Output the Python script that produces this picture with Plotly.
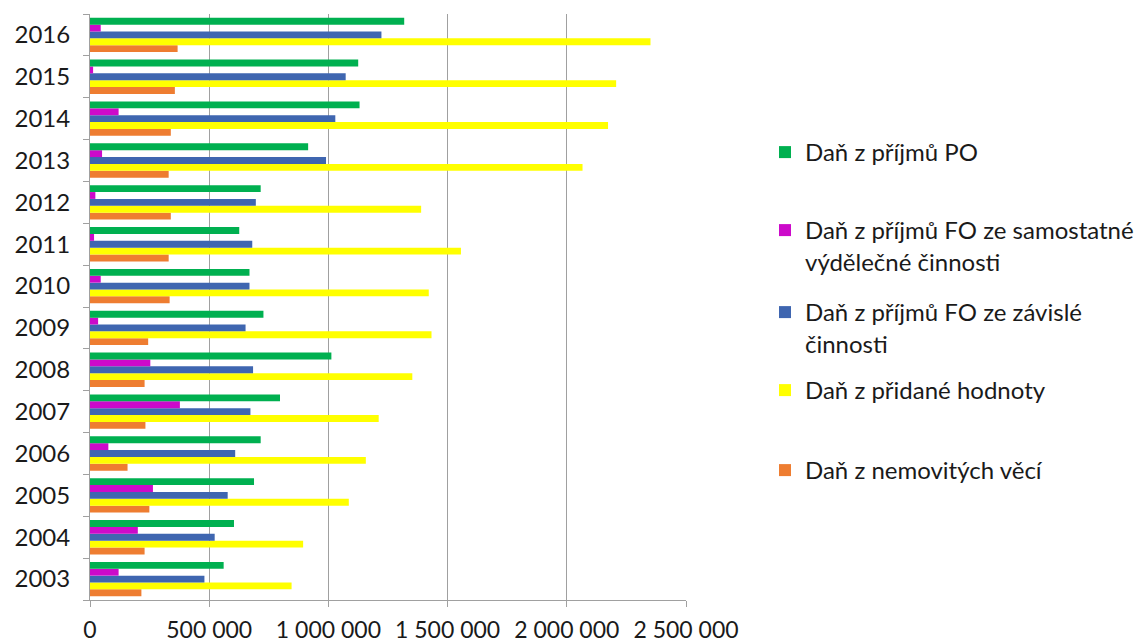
import plotly.graph_objects as go

years = ["2003", "2004", "2005", "2006", "2007", "2008", "2009",
         "2010", "2011", "2012", "2013", "2014", "2015", "2016"]

dan_po = [560600, 604000, 688000, 716000, 797000, 1012500, 727500,
          669000, 626000, 716000, 915000, 1130600, 1125000, 1318000]
dan_fo_sam = [120000, 200600, 264000, 77000, 377000, 253000, 34000,
              45000, 17000, 22500, 50600, 120000, 13000, 45000]
dan_fo_zav = [480000, 523000, 577500, 609000, 673000, 684000, 652500,
              669000, 680600, 695600, 990000, 1029000, 1072500, 1222500]
dan_dph = [845600, 894000, 1085600, 1157000, 1211000, 1352000, 1432500,
           1421000, 1556000, 1389000, 2066000, 2173000, 2207000, 2351000]
dan_nem = [215600, 229000, 249000, 157500, 232500, 229000, 244000,
           334000, 330000, 339000, 330000, 339000, 356000, 367500]

series_names = [
    "Daň z příjmů PO",
    "Daň z příjmů FO ze samostatné<br>výdělečné činnosti",
    "Daň z příjmů FO ze závislé<br>činnosti",
    "Daň z přidané hodnoty",
    "Daň z nemovitých věcí",
]
series_values = [dan_po, dan_fo_sam, dan_fo_zav, dan_dph, dan_nem]
colors = ["#00B050", "#CC0ACA", "#3F66B0", "#FFFF00", "#EE7D31"]
legend_ids = ["legend", "legend2", "legend3", "legend4", "legend5"]
legend_y_px = [152, 230, 312, 390, 470]

W, H = 1141, 644
font_family = "Lato, 'Open Sans', sans-serif"

fig = go.Figure()
# add in reverse so the first series sits at the top of each group
for i in reversed(range(5)):
    fig.add_trace(go.Bar(
        y=years, x=series_values[i], orientation="h",
        name=series_names[i], marker=dict(color=colors[i], line=dict(width=0)),
        legend=legend_ids[i],
    ))

layout_legends = {}
for i, lid in enumerate(legend_ids):
    layout_legends[lid] = dict(
        xref="container", yref="container",
        x=765 / W, y=1 - (legend_y_px[i] - 22) / H,
        xanchor="left", yanchor="top", valign="top",
        bgcolor="rgba(0,0,0,0)",
        font=dict(family=font_family, size=24, color="#1a1a1a"),
        itemwidth=30,
    )

fig.update_layout(
    width=W, height=H,
    margin=dict(l=90, r=W - 686, t=14, b=44, autoexpand=False),
    paper_bgcolor="white", plot_bgcolor="white",
    barmode="group", bargap=0.18, bargroupgap=0,
    separators=", ",
    showlegend=True,
    font=dict(family=font_family, size=20, color="#1a1a1a"),
    **layout_legends,
)
fig.update_xaxes(
    automargin=False,
    range=[0, 2500000], tickvals=[0, 500000, 1000000, 1500000, 2000000, 2500000],
    tickformat=",d", showgrid=True, gridcolor="#A0A0A0", gridwidth=1,
    zeroline=False, showline=True, linecolor="#A0A0A0", linewidth=1,
    ticks="outside", ticklen=6, tickcolor="#A0A0A0",
    ticklabelstandoff=3,
    tickfont=dict(family=font_family, size=23, color="#1a1a1a"),
)
fig.update_yaxes(
    automargin=False,
    type="category", categoryorder="array", categoryarray=years,
    showgrid=False, showline=True, linecolor="#A0A0A0", linewidth=1,
    ticks="outside", tickson="boundaries", ticklen=6, tickcolor="#A0A0A0",
    ticklabelstandoff=14,
    tickfont=dict(family=font_family, size=24, color="#1a1a1a"),
)

fig.write_html("out.html")
